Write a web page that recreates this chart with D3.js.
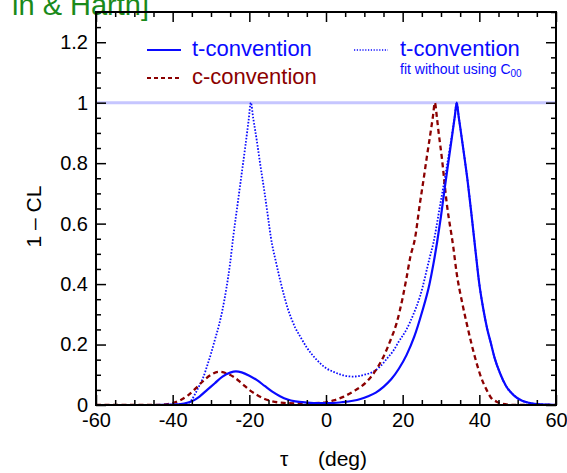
<!DOCTYPE html>
<html>
<head>
<meta charset="utf-8">
<script src="https://cdn.jsdelivr.net/npm/d3@7"></script>
<style>
  html, body { margin: 0; padding: 0; background: #fff; }
  svg { display: block; font-family: "Liberation Sans", Arial, Helvetica, sans-serif; }
</style>
</head>
<body>
<svg id="chart" width="567" height="473"></svg>
<script>
// tau (deg) and 1 - CL for each scan
const tauT = [-60, -45, -40, -37, -35, -33, -31, -29, -27, -25, -23.5, -22, -20, -18, -16, -14, -12, -10, -8, -5, -2, 1, 4, 7, 9, 11, 13, 15, 17, 19, 21, 23, 25, 27, 28, 29, 30, 31, 32, 33, 33.6, 34.1, 34.6, 35, 36, 37, 38, 39, 40, 41, 42, 43, 44, 45.4, 47, 49, 51, 53, 55, 58, 60];
const clT   = [0, 0, 0.001, 0.005, 0.012, 0.028, 0.05, 0.072, 0.094, 0.107, 0.111, 0.108, 0.097, 0.082, 0.063, 0.044, 0.029, 0.018, 0.012, 0.008, 0.006, 0.006, 0.009, 0.014, 0.02, 0.029, 0.041, 0.06, 0.085, 0.12, 0.165, 0.225, 0.305, 0.4, 0.465, 0.54, 0.625, 0.72, 0.81, 0.9, 0.955, 1.0, 0.955, 0.92, 0.83, 0.735, 0.625, 0.51, 0.4, 0.32, 0.255, 0.205, 0.155, 0.105, 0.062, 0.032, 0.015, 0.007, 0.003, 0.001, 0];

const tauC = [-60, -45, -42, -40, -38, -36, -34, -32, -30, -28, -26, -24, -22, -20, -18, -16, -14, -11, -7, -3, 0, 2, 4.5, 7, 10.6, 13, 15, 17, 18.4, 20, 21, 22, 23.2, 24.5, 25.5, 26.3, 27.5, 27.9, 28.4, 28.9, 29.3, 30.2, 31.5, 33.2, 34.1, 35.5, 36.7, 38, 39.3, 40.5, 41.9, 43, 44.5, 46, 48, 50, 60];
const clC   = [0, 0, 0.002, 0.006, 0.016, 0.032, 0.055, 0.08, 0.1, 0.11, 0.105, 0.092, 0.072, 0.05, 0.033, 0.02, 0.012, 0.007, 0.005, 0.006, 0.009, 0.015, 0.027, 0.044, 0.077, 0.115, 0.16, 0.22, 0.27, 0.355, 0.42, 0.49, 0.55, 0.667, 0.75, 0.82, 0.92, 0.955, 1.0, 0.955, 0.91, 0.82, 0.667, 0.523, 0.435, 0.34, 0.27, 0.2, 0.138, 0.09, 0.05, 0.025, 0.011, 0.004, 0.001, 0, 0];

const tauN = [-60, -45, -40, -38, -36, -35, -34, -33, -32, -31, -30, -29, -28, -27, -26, -25, -24.2, -23, -22, -21, -20.2, -19.6, -19, -18, -17.2, -16, -15, -14.4, -13, -12, -11, -10, -9, -8, -6.8, -5, -2.4, 0, 1.9, 4, 7.1, 10, 12.3, 14.1, 16, 17.6, 19, 21, 22.8, 24.5, 27.1, 28, 29.7, 31, 32.5, 33.6, 34.1, 34.6, 35, 36, 37, 38, 39, 40, 41, 42, 43, 44, 45.4, 47, 49, 51, 53, 55, 58, 60];
const clN   = [0, 0, 0.001, 0.003, 0.006, 0.018, 0.04, 0.065, 0.092, 0.13, 0.17, 0.215, 0.26, 0.315, 0.385, 0.47, 0.556, 0.67, 0.765, 0.86, 0.94, 1.0, 0.95, 0.87, 0.8, 0.7, 0.61, 0.556, 0.47, 0.415, 0.365, 0.32, 0.285, 0.255, 0.228, 0.19, 0.149, 0.122, 0.11, 0.1, 0.094, 0.1, 0.11, 0.127, 0.155, 0.18, 0.21, 0.25, 0.3, 0.358, 0.49, 0.535, 0.656, 0.75, 0.865, 0.955, 1.0, 0.955, 0.92, 0.83, 0.735, 0.625, 0.51, 0.4, 0.32, 0.255, 0.205, 0.155, 0.105, 0.062, 0.032, 0.015, 0.007, 0.003, 0.001, 0];

const xMajor = [-60, -40, -20, 0, 20, 40, 60];
const xTickLabels = ["-60", "-40", "-20", "0", "20", "40", "60"];
const yMajor = [0, 0.2, 0.4, 0.6, 0.8, 1, 1.2];
const yTickLabels = ["0", "0.2", "0.4", "0.6", "0.8", "1", "1.2"];

const svg = d3.select("#chart");
const L = 96, R = 556, T = 12, B = 405;

const x = d3.scaleLinear().domain([-60, 60]).range([L, R]);
const y = d3.scaleLinear().domain([0, 1.3]).range([B, T]);

const blue = "#0a0aff", red = "#8b0000";

// title fragment in the upper-left corner
svg.append("text")
  .attr("x", 149).attr("y", 15)
  .attr("text-anchor", "end")
  .attr("font-size", 29)
  .attr("fill", "#1a8a1a")
  .text("in & Harth]");

// reference line at 1 - CL = 1
svg.append("line")
  .attr("x1", x(-60)).attr("x2", x(60))
  .attr("y1", y(1)).attr("y2", y(1))
  .attr("stroke", "#c6c6ff").attr("stroke-width", 3);

svg.append("defs").append("clipPath").attr("id", "plotclip")
  .append("rect").attr("x", L).attr("y", T).attr("width", R - L).attr("height", B - T);

const line = d3.line()
  .x(d => x(d[0])).y(d => y(d[1]))
  .curve(d3.curveMonotoneX);

const plot = svg.append("g").attr("clip-path", "url(#plotclip)");

plot.append("path")
  .datum(tauN.map((t, i) => [t, clN[i]]))
  .attr("d", line).attr("fill", "none")
  .attr("stroke", blue).attr("stroke-width", 1.8)
  .attr("stroke-dasharray", "1.6,1.6");

plot.append("path")
  .datum(tauC.map((t, i) => [t, clC[i]]))
  .attr("d", line).attr("fill", "none")
  .attr("stroke", red).attr("stroke-width", 2.3)
  .attr("stroke-dasharray", "5,3.5");

plot.append("path")
  .datum(tauT.map((t, i) => [t, clT[i]]))
  .attr("d", line).attr("fill", "none")
  .attr("stroke", blue).attr("stroke-width", 2.2);

// axes: ticks point inward on all four sides
const xMinor = d3.range(-60, 61, 5).filter(v => v % 20 !== 0);
const yMinor = d3.range(0, 27).map(i => +(i * 0.05).toFixed(2)).filter(v => Math.round(v * 100) % 20 !== 0);

function styleAxis(g) {
  g.select(".domain").remove();
  g.selectAll(".tick line").attr("stroke", "#000").attr("stroke-width", 1.5);
  g.selectAll(".tick text").attr("font-size", 20).attr("fill", "#000")
    .attr("font-family", "'Liberation Sans', Arial, sans-serif");
}

svg.append("g").attr("transform", `translate(0,${B})`)
  .call(d3.axisBottom(x).tickValues(xMajor).tickSize(-10).tickPadding(8)
    .tickFormat((d, i) => xTickLabels[i]))
  .call(styleAxis);
svg.append("g").attr("transform", `translate(0,${B})`)
  .call(d3.axisBottom(x).tickValues(xMinor).tickSize(-5).tickFormat(""))
  .call(styleAxis);
svg.append("g").attr("transform", `translate(0,${T})`)
  .call(d3.axisTop(x).tickValues(xMajor).tickSize(-10).tickFormat(""))
  .call(styleAxis);
svg.append("g").attr("transform", `translate(0,${T})`)
  .call(d3.axisTop(x).tickValues(xMinor).tickSize(-5).tickFormat(""))
  .call(styleAxis);

svg.append("g").attr("transform", `translate(${L},0)`)
  .call(d3.axisLeft(y).tickValues(yMajor).tickSize(-10).tickPadding(8)
    .tickFormat((d, i) => yTickLabels[i]))
  .call(styleAxis);
svg.append("g").attr("transform", `translate(${L},0)`)
  .call(d3.axisLeft(y).tickValues(yMinor).tickSize(-5).tickFormat(""))
  .call(styleAxis);
svg.append("g").attr("transform", `translate(${R},0)`)
  .call(d3.axisRight(y).tickValues(yMajor).tickSize(-10).tickFormat(""))
  .call(styleAxis);
svg.append("g").attr("transform", `translate(${R},0)`)
  .call(d3.axisRight(y).tickValues(yMinor).tickSize(-5).tickFormat(""))
  .call(styleAxis);

// frame
svg.append("rect")
  .attr("x", L).attr("y", T).attr("width", R - L).attr("height", B - T)
  .attr("fill", "none").attr("stroke", "#000").attr("stroke-width", 2);

// axis titles
svg.append("text")
  .attr("transform", `translate(41,${(T + B) / 2 + 8}) rotate(-90)`)
  .attr("text-anchor", "middle").attr("font-size", 21)
  .text("1 \u2013 CL");

const xt = svg.append("text").attr("y", 466).attr("font-size", 21);
xt.append("tspan").attr("x", 280).text("\u03c4");
xt.append("tspan").attr("x", 318).text("(deg)");

// legend
const leg = svg.append("g");
leg.append("line").attr("x1", 147).attr("x2", 181).attr("y1", 50).attr("y2", 50)
  .attr("stroke", blue).attr("stroke-width", 2.2);
leg.append("text").attr("x", 192).attr("y", 56).attr("font-size", 22).attr("fill", blue)
  .text("t-convention");

leg.append("line").attr("x1", 147).attr("x2", 181).attr("y1", 78).attr("y2", 78)
  .attr("stroke", red).attr("stroke-width", 2).attr("stroke-dasharray", "4,3");
leg.append("text").attr("x", 192).attr("y", 84).attr("font-size", 22).attr("fill", red)
  .text("c-convention");

leg.append("line").attr("x1", 354).attr("x2", 388).attr("y1", 50).attr("y2", 50)
  .attr("stroke", blue).attr("stroke-width", 1.5).attr("stroke-dasharray", "1.2,1.6");
leg.append("text").attr("x", 400).attr("y", 56).attr("font-size", 22).attr("fill", blue)
  .text("t-convention");
const sub = leg.append("text").attr("x", 400).attr("y", 74).attr("font-size", 14).attr("fill", blue);
sub.append("tspan").text("fit without using C");
sub.append("tspan").attr("font-size", 10).attr("dy", 3).text("00");
</script>
</body>
</html>
